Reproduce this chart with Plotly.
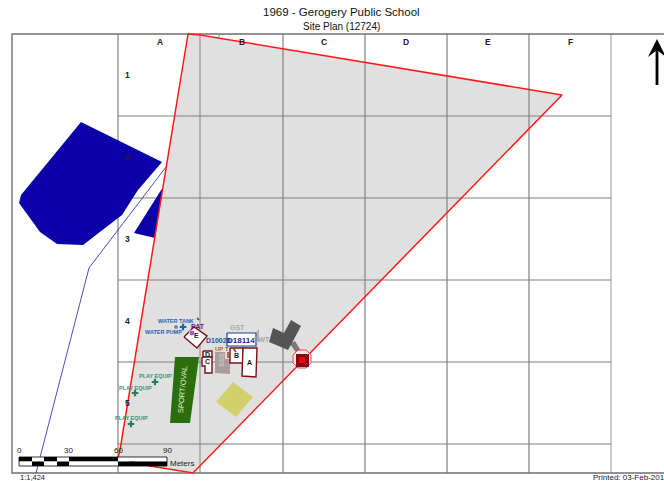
import plotly.graph_objects as go

FONT = "Liberation Sans"
W, H = 664, 481

# --- map features (read from the site plan, in sheet units) ---
frame_x = [664, 12, 12, 664]
frame_y = [34, 34, 473, 473]
grid_vx = [118, 200, 283, 365, 447, 529, 611]
grid_hy = [116, 198, 280, 362, 444]
col_labels = ["A", "B", "C", "D", "E", "F"]
col_label_x = [160, 242, 324, 406, 488, 570]
row_labels = ["1", "2", "3", "4", "5"]
row_label_y = [75, 157, 239, 321, 403]

parcel_x = [188, 200, 562, 193, 150, 118, 120, 188]
parcel_y = [34, 35, 95, 473, 466, 458, 450, 34]

water_big_x = [81, 162, 138, 122, 83, 57, 40, 19, 21, 81]
water_big_y = [122, 162, 190, 215, 245, 244, 232, 203, 195, 122]
water_small_x = [163, 155, 134, 163]
water_small_y = [187, 238, 233, 187]
road_x = [36, 89, 166]
road_y = [473, 268, 167]
road_top_x = [220, 218]
road_top_y = [34, 38]

oval_x = [175, 199, 190, 170, 175]
oval_y = [357, 357, 423, 423, 357]
court_x = [233, 253, 236, 216, 233]
court_y = [382, 397, 417, 402, 382]

bldg_e_x = [184, 194, 207, 197, 184]
bldg_e_y = [337, 327, 336, 348, 337]
bldg_d_x = [203, 212, 212, 203, 203]
bldg_d_y = [351, 351, 357, 357, 351]
bldg_c_x = [202, 212, 212, 205, 205, 202, 202]
bldg_c_y = [357, 357, 373, 373, 366, 366, 357]
bldg_s_x = [215, 225, 225, 230, 230, 215, 215]
bldg_s_y = [352, 352, 359, 359, 374, 373, 352]
bldg_b_x = [230, 243, 243, 230, 230]
bldg_b_y = [348, 348, 363, 363, 348]
bldg_a_x = [243, 257, 256, 242, 243]
bldg_a_y = [348, 348, 377, 376, 348]
box_x = [227, 256, 256, 227, 227]
box_y = [333, 333, 346, 346, 333]

dark_x = [273, 284, 291, 301, 292, 288, 269, 273]
dark_y = [328, 333, 320, 326, 343, 350, 342, 328]
link_x = [290, 295, 301, 297, 290]
link_y = [344, 341, 351, 354, 344]
octa_x = [298, 306, 311, 311, 306, 298, 293, 293, 298]
octa_y = [350, 350, 355, 363, 368, 368, 363, 355, 350]
sq_out_x = [296, 309, 309, 296, 296]
sq_out_y = [354, 354, 367, 367, 354]
sq_in_x = [299, 305, 305, 299, 299]
sq_in_y = [357, 357, 363, 363, 357]

arrow_x = [657, 648, 657, 666, 657]
arrow_y = [39, 57, 50, 57, 39]
stem_x = [657, 657]
stem_y = [48, 85]

bar_top = 457
bar_mid = 461.5
bar_bot = 466
bar_edges = [19, 32, 44, 57, 69, 118, 167]
scale_labels = ["0", "30", "60", "90"]
scale_label_x = [19, 68, 118, 167]

dot_x = [176, 192]
dot_y = [327, 333]
dot_col = ["#1f5fb0", "#8a1aa8"]
dot_size = [5, 6]
plus_x = [183, 155, 135, 131]
plus_y = [327, 382, 393, 424]
plus_col = ["#1f5fb0", "#1e8060", "#1e8060", "#1e8060"]

BLUE = "#2a62b5"
TEAL = "#3a9078"
GREY = "#a8a8a8"
# text, x, y, size, colour, bold, angle
labels = [
    ("WATER TANK", 176, 321, 5.5, BLUE, True, 0),
    ("WATER PUMP", 163, 332, 5.5, BLUE, True, 0),
    ("PLAY EQUIP", 155, 376, 5.5, TEAL, True, 0),
    ("PLAY EQUIP", 135, 388, 5.5, TEAL, True, 0),
    ("PLAY EQUIP", 131, 418, 5.5, TEAL, True, 0),
    ("PAT", 198, 326, 7, "#6a1a8a", True, 0),
    ("E", 196, 335, 7, "#222222", True, 0),
    ("D10028", 218, 340, 7, "#3a4aa0", True, 0),
    ("D18114", 241, 340, 8, "#1a2a90", True, 0),
    ("GST", 237, 327, 7, GREY, True, 0),
    ("GWT", 261, 339, 7, GREY, True, 0),
    ("UP T", 222, 349, 6, "#b0651a", True, 0),
    ("D", 207, 354, 7, "#222222", True, 0),
    ("C", 207, 361, 7, "#222222", True, 0),
    ("SSS", 221, 360, 7, "#c8c8c8", True, -90),
    ("B", 236, 355, 7, "#222222", True, 0),
    ("A", 249, 362, 7, "#222222", True, 0),
    ("SPORT/OVAL", 182, 390, 7.5, "#e4efd0", False, -85),
]

fig = go.Figure()


def poly(x, y, fill=None, line=None, width=1.0):
    fig.add_trace(go.Scatter(
        x=x, y=y, mode="lines", hoverinfo="skip", showlegend=False,
        fill="toself" if fill else "none", fillcolor=fill,
        line=dict(color=line or "rgba(0,0,0,0)", width=width if line else 0),
    ))


# parcel fill, then the map grid over it
poly(parcel_x, parcel_y, fill="#e0e0e0")
for gx in grid_vx:
    poly([gx, gx], [34, 473], line="#a8a8a8" if gx in (200, 611) else "#808080", width=1.6 if gx == 200 else 1.2)
for gy in grid_hy:
    poly([118, 611], [gy, gy], line="#808080", width=1.2)
poly(frame_x, frame_y, line="#707070", width=1.4)

# water and road
poly(water_big_x, water_big_y, fill="#0c00a8")
poly(water_small_x, water_small_y, fill="#0c00a8")
poly(road_x, road_y, line="#2020b0", width=0.8)
poly(road_top_x, road_top_y, line="#6060c0", width=0.8)
poly(parcel_x, parcel_y, line="#ff1a1a", width=1.5)

# site features
poly(oval_x, oval_y, fill="#2c6e0c")
poly(court_x, court_y, fill="#d2d06c")
poly(link_x, link_y, fill="#7a7a7a")
poly(dark_x, dark_y, fill="#555555")
poly(bldg_s_x, bldg_s_y, fill="#a89c9c")
for bx, by in [(bldg_e_x, bldg_e_y), (bldg_d_x, bldg_d_y), (bldg_c_x, bldg_c_y),
               (bldg_b_x, bldg_b_y), (bldg_a_x, bldg_a_y)]:
    poly(bx, by, fill="#ffffff", line="#7a1018", width=1.4)
poly(box_x, box_y, fill="#ffffff", line="#1a3a9a", width=1.2)
poly([258, 258], [330, 342], line="#b0b0b0", width=2)
poly([197, 199], [318, 320], line="#7a1018", width=1.2)
poly([228, 228], [352, 358], line="#8a4a10", width=1.5)
poly([233, 236], [348, 352], line="#8a4a10", width=1.5)
poly(octa_x, octa_y, fill="#f8e8e8", line="#ff2a2a", width=0.9)
poly(sq_out_x, sq_out_y, fill="#7a1018")
poly(sq_in_x, sq_in_y, fill="#ff0000")

fig.add_trace(go.Scatter(
    x=dot_x, y=dot_y, mode="markers", hoverinfo="skip", showlegend=False,
    marker=dict(color=dot_col, size=dot_size),
))
fig.add_trace(go.Scatter(
    x=plus_x, y=plus_y, mode="markers", hoverinfo="skip", showlegend=False,
    marker=dict(color=plus_col, size=5.5, symbol="cross"),
))

# scale bar
for i in range(len(bar_edges) - 1):
    x0, x1 = bar_edges[i], bar_edges[i + 1]
    top_col, bot_col = ("#000000", "#ffffff") if i % 2 == 0 else ("#ffffff", "#000000")
    poly([x0, x1, x1, x0, x0], [bar_top, bar_top, bar_mid, bar_mid, bar_top], fill=top_col)
    poly([x0, x1, x1, x0, x0], [bar_mid, bar_mid, bar_bot, bar_bot, bar_mid], fill=bot_col)
poly([19, 167, 167, 19, 19], [bar_top, bar_top, bar_bot, bar_bot, bar_top], line="#000000", width=0.8)

# north arrow
poly(stem_x, stem_y, line="#000000", width=2.8)
poly(arrow_x, arrow_y, fill="#000000")


def note(text, x, y, size=7, color="#222222", bold=False, angle=0, anchor="center"):
    fig.add_annotation(
        x=x, y=y, xref="x", yref="y", text=f"<b>{text}</b>" if bold else text,
        showarrow=False, xanchor=anchor, yanchor="middle", textangle=angle,
        font=dict(family=FONT, size=size, color=color), borderpad=0, borderwidth=0,
    )


note("1969 - Gerogery Public School", 341, 12, size=11.5, color="#111111")
note("Site Plan (12724)", 341, 26, size=10, color="#111111")
for c, cx in zip(col_labels, col_label_x):
    note(c, cx, 42, size=8.5, bold=True)
for r, ry in zip(row_labels, row_label_y):
    note(r, 127, ry, size=8.5, bold=True)
for t, lx, ly, s, col, b, ang in labels:
    note(t, lx, ly, size=s, color=col, bold=b, angle=ang)
for t, sx in zip(scale_labels, scale_label_x):
    note(t, sx, 450, size=8)
note("Meters", 170, 463, size=8, anchor="left")
note("1:1,424", 20, 477.5, size=7.5, anchor="left")
note("Printed: 03-Feb-201", 593, 477.5, size=8, anchor="left")

fig.update_layout(
    width=W, height=H, margin=dict(l=0, r=0, t=0, b=0),
    paper_bgcolor="#ffffff", plot_bgcolor="#ffffff", showlegend=False,
    xaxis=dict(range=[0, W], visible=False, fixedrange=True),
    yaxis=dict(range=[H, 0], visible=False, fixedrange=True),
)
fig.write_html("out.html", config={"displayModeBar": False},
               post_script="document.body.style.margin='0';")
